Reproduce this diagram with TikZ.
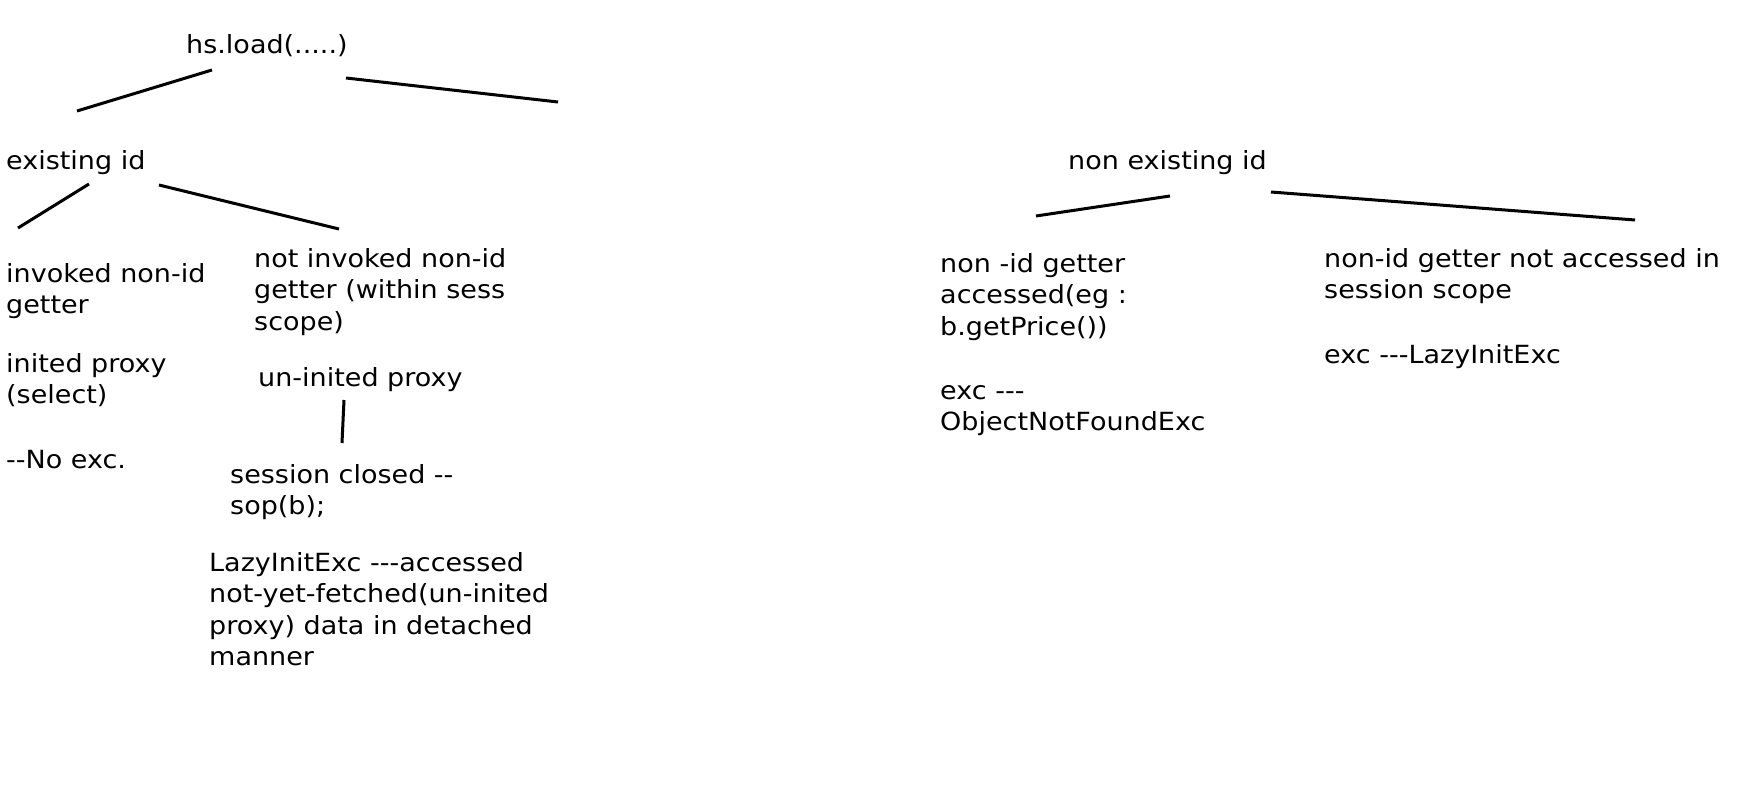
\documentclass[tikz,border=0pt]{standalone}
\usepackage{fontspec}
\setmainfont{DejaVu Sans}[Ligatures=TeXOff,FakeStretch=1.08]
\usepackage{tikz}
\tikzstyle{branch} = [line width=3pt]
\tikzstyle{note} = [anchor=base west, inner sep=0pt, align=left, font=\fontsize{25}{31.5}\selectfont]

\begin{document}
\begin{tikzpicture}[x=1pt,y=-1pt]
			\useasboundingbox (0,0) rectangle (1763,786);
			\node[note] (load) at (186,54) {hs.load(.....)};
			\node[note] (exist) at (6,170) {existing id};
			\node[note] (nonexist) at (1068,170) {non existing id};
			\node[note] (invoked) at (6,313.5) {invoked non-id\\getter};
			\node[note] (inited) at (6,403.5) {inited proxy\\(select)};
			\node[note] (noexc) at (6,468) {--No exc.};
			\node[note] (notinvoked) at (254,330) {not invoked non-id\\getter (within sess\\scope)};
			\node[note] (uninited) at (258,386) {un-inited proxy};
			\node[note] (closed) at (230,514.5) {session closed --\\sop(b);};
			\node[note] (lazy) at (209,665.5) {LazyInitExc ---accessed\\not-yet-fetched(un-inited\\proxy) data in detached\\manner};
			\node[note] (accessed) at (940,335) {non -id getter\\accessed(eg :\\b.getPrice())};
			\node[note] (notfound) at (940,430.5) {exc ---\\ObjectNotFoundExc};
			\node[note] (notaccessed) at (1324,298.5) {non-id getter not accessed in\\session scope};
			\node[note] (lazyexc) at (1324,363) {exc ---LazyInitExc};
			\coordinate (loadL) at (212,70);
			\coordinate (existT) at (77,111);
			\coordinate (loadR) at (346,78);
			\coordinate (nonexistT) at (558,102);
			\coordinate (existL) at (89,184);
			\coordinate (invokedT) at (18,228);
			\coordinate (existR) at (159,185);
			\coordinate (notinvokedT) at (339,229);
			\coordinate (uninitedB) at (344,400);
			\coordinate (closedT) at (342,443);
			\coordinate (nonexistL) at (1170,196);
			\coordinate (accessedT) at (1036,216);
			\coordinate (nonexistR) at (1271,192);
			\coordinate (notaccessedT) at (1635,220);
			\draw[branch] (loadL)--(existT);
			\draw[branch] (loadR)--(nonexistT);
			\draw[branch] (existL)--(invokedT);
			\draw[branch] (existR)--(notinvokedT);
			\draw[branch] (uninitedB)--(closedT);
			\draw[branch] (nonexistL)--(accessedT);
			\draw[branch] (nonexistR)--(notaccessedT);
		\end{tikzpicture}
\end{document}
